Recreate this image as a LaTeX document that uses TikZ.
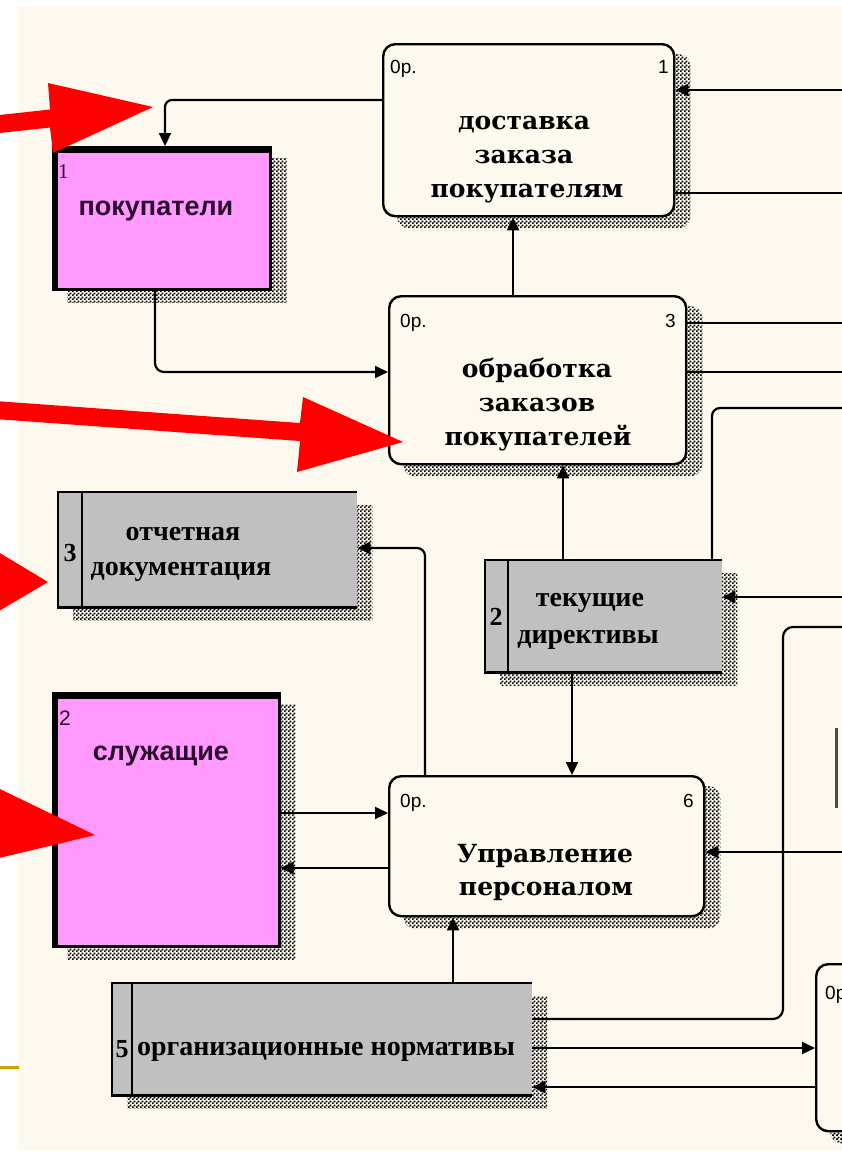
\documentclass[tikz,border=0pt]{standalone}
\usepackage{fontspec}
\newfontfamily\procfont{DejaVu Serif}
\newfontfamily\entfont{Liberation Sans}
\newfontfamily\storefont{Liberation Serif}
\usetikzlibrary{arrows.meta,patterns,calc}

\definecolor{paper}{HTML}{FDF9EE}
\definecolor{entpink}{HTML}{FF99FF}
\definecolor{storegray}{HTML}{C0C0C0}
\definecolor{inkpurple}{HTML}{2A0A2A}
\definecolor{markred}{HTML}{FF0000}
\definecolor{rulegold}{HTML}{CFA200}

% checkered dot texture used for the drop shadows
\pgfdeclarepatternformonly{shadowdots}{\pgfqpoint{0pt}{0pt}}{\pgfqpoint{4pt}{4pt}}{\pgfqpoint{4pt}{4pt}}{%
  \pgfpathrectangle{\pgfqpoint{0pt}{0pt}}{\pgfqpoint{2.1pt}{2.1pt}}%
  \pgfpathrectangle{\pgfqpoint{2pt}{2pt}}{\pgfqpoint{2.1pt}{2.1pt}}%
  \pgfusepath{fill}}

\pgfdeclarelayer{bg}
\pgfdeclarelayer{shade}
\pgfsetlayers{bg,shade,main}

\begin{document}
\begin{tikzpicture}[x=1pt,y=-1pt,
  proc/.style={draw, line width=2.4pt, rounded corners=12pt, fill=paper, anchor=north west, inner sep=0pt},
  entity/.style={draw, line width=2.5pt, fill=entpink, anchor=north west, inner sep=0pt},
  store/.style={fill=storegray, anchor=north west, inner sep=0pt},
  procshadow/.style={pattern=shadowdots, pattern color=black, rounded corners=12pt},
  boxshadow/.style={pattern=shadowdots, pattern color=black},
  proctext/.style={font=\procfont\bfseries\fontsize{25}{25}\selectfont, inner sep=0pt, anchor=base},
  enttext/.style={font=\entfont\bfseries\fontsize{27}{27}\selectfont, text=inkpurple, inner sep=0pt, anchor=base},
  storetext/.style={font=\storefont\bfseries\fontsize{28}{28}\selectfont, inner sep=0pt, anchor=base},
  storenum/.style={font=\storefont\bfseries\fontsize{26}{26}\selectfont, inner sep=0pt, anchor=base},
  tag/.style={font=\entfont\fontsize{19}{19}\selectfont, inner sep=0pt},
  wire/.style={line width=2.2pt},
  flow/.style={line width=2.2pt, -{Triangle[length=13pt,width=12pt]}},
  storeline/.style={line width=2.4pt},
  marker/.style={fill=markred}
]
\useasboundingbox (0,0) rectangle (842,1152);
\clip (0,0) rectangle (842,1152);

\begin{pgfonlayer}{bg}
  \fill[white] (0,0) rectangle (842,1152);
  \fill[paper] (18,6) rectangle (842,1150);
  \draw[rulegold, line width=3pt] (0,1067) -- (19,1067);
\end{pgfonlayer}

% ---- processes ----
\node[proc, minimum width=291pt, minimum height=172pt] (A) at (382,43) {};
\node[proc, minimum width=297pt, minimum height=168pt] (B) at (388,295) {};
\node[proc, minimum width=315pt, minimum height=140pt] (C) at (388,775) {};
\node[proc, minimum width=260pt, minimum height=167pt] (D) at (815,963) {};

\node[tag, anchor=base west] (A0) at (390,73) {0р.};
\node[tag, anchor=base east] (A1) at (669,73) {1};
\node[proctext] (tA1) at (524,129) {доставка};
\node[proctext] (tA2) at (524,163) {заказа};
\node[proctext] (tA3) at (527,197) {покупателям};

\node[tag, anchor=base west] (B0) at (400,327) {0р.};
\node[tag, anchor=base east] (B1) at (676,327) {3};
\node[proctext] (tB1) at (537,377) {обработка};
\node[proctext] (tB2) at (537,411) {заказов};
\node[proctext] (tB3) at (538,445) {покупателей};

\node[tag, anchor=base west] (C0) at (400,807) {0р.};
\node[tag, anchor=base east] (C1) at (694,807) {6};
\node[proctext] (tC1) at (545,862) {Управление};
\node[proctext] (tC2) at (546,895) {персоналом};

\node[tag, anchor=base west] (D0) at (825,999) {0р.};

% ---- external entities ----
\node[entity, minimum width=217pt, minimum height=142pt] (P1) at (52,146) {};
\draw[line width=6.5pt] ($(P1.south west)+(3,0)$) -- ($(P1.north west)+(3,3.3)$) -- ($(P1.north east)+(0,3.3)$);
\node[font=\storefont\fontsize{21}{21}\selectfont, text=inkpurple, inner sep=0pt, anchor=base west] (P1n) at (58,178) {1};
\node[enttext] (tP1) at (156,215) {покупатели};

\node[entity, minimum width=226pt, minimum height=253pt] (P2) at (52,692) {};
\draw[line width=6.5pt] ($(P2.south west)+(3,0)$) -- ($(P2.north west)+(3,3.3)$) -- ($(P2.north east)+(0,3.3)$);
\node[font=\entfont\fontsize{21}{21}\selectfont, text=inkpurple, inner sep=0pt, anchor=base west] (P2n) at (59,725) {2};
\node[enttext] (tP2) at (161,760) {служащие};

% ---- data stores ----
\node[store, minimum width=299pt, minimum height=115pt] (S3) at (58,492) {};
\draw[storeline] (S3.north east) -- (S3.north west) -- (S3.south west) -- (S3.south east);
\draw[storeline] (S3.north -| 82,0) -- (S3.south -| 82,0);
\node[storenum] (S3n) at (70,561) {3};
\node[storetext] (tS3a) at (183,540) {отчетная};
\node[storetext] (tS3b) at (181,575) {документация};

\node[store, minimum width=237pt, minimum height=112pt] (S2) at (485,560) {};
\draw[storeline] (S2.north east) -- (S2.north west) -- (S2.south west) -- (S2.south east);
\draw[storeline] (S2.north -| 508,0) -- (S2.south -| 508,0);
\node[storenum] (S2n) at (496,625) {2};
\node[storetext] (tS2a) at (590,606) {текущие};
\node[storetext] (tS2b) at (588,643) {директивы};

\node[store, minimum width=420pt, minimum height=112pt] (S5) at (112,983) {};
\draw[storeline] (S5.north east) -- (S5.north west) -- (S5.south west) -- (S5.south east);
\draw[storeline] (S5.north -| 132,0) -- (S5.south -| 132,0);
\node[storenum] (S5n) at (122,1057) {5};
\node[storetext] (tS5) at (326,1055) {организационные нормативы};

% ---- drop shadows ----
\begin{pgfonlayer}{shade}
  \foreach \b in {A,B,C,D}
    \fill[procshadow] ($(\b.north west)+(15,11)$) rectangle ($(\b.south east)+(15,11)$);
  \foreach \b in {P1,P2}
    \fill[boxshadow] ($(\b.north west)+(15,12)$) rectangle ($(\b.south east)+(15,12)$);
  \foreach \b in {S3,S2,S5}
    \fill[boxshadow] ($(\b.north west)+(15,13)$) rectangle ($(\b.south east)+(15,13)$);
\end{pgfonlayer}

% ---- free ends at the right border ----
\coordinate (e1) at (842,90);
\coordinate (e2) at (842,193);
\coordinate (e3) at (842,323);
\coordinate (e4) at (842,372);
\coordinate (e5) at (842,408);
\coordinate (e6) at (842,597);
\coordinate (e7) at (842,627);
\coordinate (e8) at (842,852);
\coordinate (k1) at (783,1019);

% ---- flows ----
\draw[flow, rounded corners=7pt] (A.west |- 0,100) -| (P1.north -| 165,0);
\draw[flow, rounded corners=9pt] (P1.south -| 155,0) |- (B.west |- 0,372);
\draw[flow] (B.north -| 513,0) -- (A.south -| 513,0);
\draw[flow] (e1) -- (A.east |- e1);
\draw[wire] (A.east |- e2) -- (e2);
\draw[wire] (B.east |- e3) -- (e3);
\draw[wire] (B.east |- e4) -- (e4);
\draw[wire, rounded corners=8pt] (e5) -| (S2.north -| 712,0);
\draw[flow] (S2.north -| 563,0) -- (B.south -| 563,0);
\draw[flow] (S2.south -| 572,0) -- (C.north -| 572,0);
\draw[flow] (e6) -- (S2.east |- e6);
\draw[flow, rounded corners=8pt] (C.north -| 425,0) |- (S3.east |- 0,548);
\draw[flow] (P2.east |- 0,813) -- (C.west |- 0,813);
\draw[flow] (C.west |- 0,868) -- (P2.east |- 0,868);
\draw[flow] (e8) -- (C.east |- e8);
\draw[wire, rounded corners=10pt] (e7) -| (k1) -- (S5.east |- k1);
\draw[flow] (S5.east |- 0,1048) -- (D.west |- 0,1048);
\draw[flow] (D.west |- 0,1087) -- (S5.east |- 0,1087);
\draw[flow] (S5.north -| 453,0) -- (C.south -| 453,0);
\draw[line width=3pt, black!70] (836,728) -- (836,808);

% ---- red pointer arrows ----
\fill[marker] (-5,115.5) -- (50,109.5) -- (48,83) -- (153,107) -- (53,153) -- (50,127.5) -- (-5,133.5) -- cycle;
\fill[marker] (-5,401) -- (300,423) -- (303,397) -- (403,442) -- (297,472) -- (300,441) -- (-5,419) -- cycle;
\fill[marker] (-50,523) -- (48,582) -- (-50,640) -- cycle;
\fill[marker] (-60,760) -- (95,835) -- (-30,865) -- cycle;
\end{tikzpicture}
\end{document}
